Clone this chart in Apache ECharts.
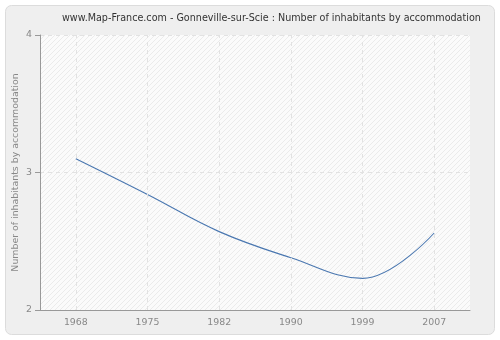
<!DOCTYPE html>
<html><head><meta charset="utf-8">
<script src="https://cdn.jsdelivr.net/npm/echarts@6/dist/echarts.min.js"></script>
<style>html,body{margin:0;padding:0;background:#fff}#c{width:500px;height:340px}</style>
</head><body><div id="c"></div>
<script>
var years = ['1968','1975','1982','1990','1999','2007'];
var values = [3.10, 2.84, 2.57, 2.38, 2.23, 2.56];
var yTicks = [2, 3, 4];
var titleText = 'www.Map-France.com - Gonneville-sur-Scie : Number of inhabitants by accommodation';
var yName = 'Number of inhabitants by accommodation';

var pc = document.createElement('canvas');
pc.width = 5; pc.height = 5;
var g = pc.getContext('2d');
g.fillStyle = '#fbfbfb'; g.fillRect(0,0,5,5);
g.strokeStyle = '#ebebeb'; g.lineWidth = 1;
g.beginPath(); g.moveTo(0,5); g.lineTo(5,0); g.stroke();
g.beginPath(); g.moveTo(-1,1); g.lineTo(1,-1); g.stroke();
g.beginPath(); g.moveTo(4,6); g.lineTo(6,4); g.stroke();

var FONT = 'DejaVu Sans';
var chart = echarts.init(document.getElementById('c'), null, {renderer:'canvas'});
chart.setOption({
  backgroundColor: '#ffffff',
  animation: false,
  graphic: [{type:'rect', z:-10, shape:{x:5.5,y:5.5,width:489,height:329,r:6}, style:{fill:'#efefef', stroke:'#dcdcdc', lineWidth:1}}],
  title: {text: titleText, left: 57, top: 8, textStyle:{fontFamily:FONT, fontSize:9.6, fontWeight:'normal', color:'#333'}},
  grid: {left:40, right:30, top:35, bottom:30, outerBoundsMode:'none', containLabel:false, show:true, borderWidth:0, backgroundColor:{image:pc, repeat:'repeat'}},
  xAxis: {type:'category', data: years, boundaryGap:true,
    axisLine:{lineStyle:{color:'#999'}}, axisTick:{alignWithLabel:true, length:5, lineStyle:{color:'#999'}},
    axisLabel:{color:'#888', fontFamily:FONT, fontSize:9.4, margin:8},
    splitLine:{show:false}},
  yAxis: {type:'value', min:yTicks[0], max:yTicks[yTicks.length-1], interval:1,
    name: yName, nameLocation:'middle', nameGap:20, nameMoveOverlap:false, nameTextStyle:{color:'#888', fontFamily:FONT, fontSize:9.4},
    axisLine:{show:true, lineStyle:{color:'#999'}}, axisTick:{show:true, length:5, lineStyle:{color:'#999'}},
    axisLabel:{color:'#888', fontFamily:FONT, fontSize:9.4, margin:8},
    splitLine:{show:true, lineStyle:{color:'#e2e2e2', type:[4,4]}}},
  series: [{type:'line', data: values, smooth:0.4, symbol:'none', lineStyle:{color:'#4a77b0', width:1.1},
    markLine:{silent:true, symbol:'none', label:{show:false}, animation:false,
      lineStyle:{color:'#e2e2e2', type:[4,4], width:1},
      data: years.map(function(y){return {xAxis:y};})}}]
});
</script></body></html>
